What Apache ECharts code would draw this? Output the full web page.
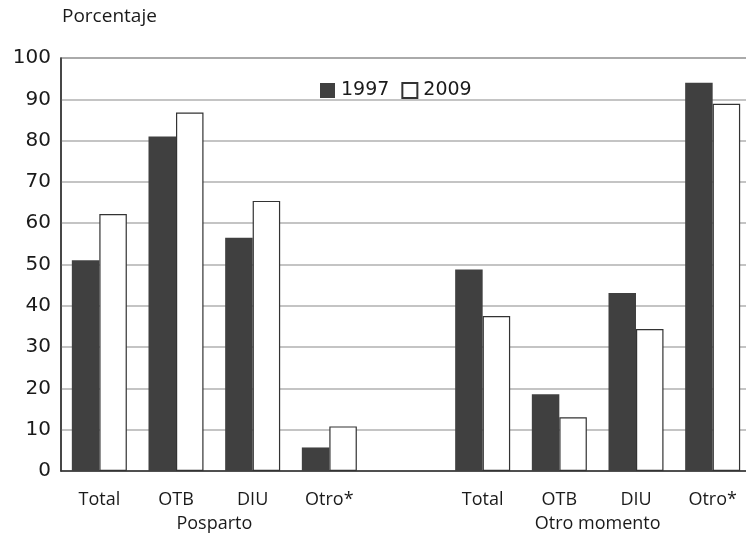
<!DOCTYPE html>
<html><head><meta charset="utf-8">
<script src="https://cdn.jsdelivr.net/npm/echarts@6/dist/echarts.min.js"></script>
<style>html,body{margin:0;padding:0;background:#fff}#c{width:746px;height:538px}</style>
</head><body><div id="c"></div>
<script>
const categories = ['Total','OTB','DIU','Otro*','','Total','OTB','DIU','Otro*'];
const groups = [{name:'Posparto', from:0, to:3},{name:'Otro momento', from:5, to:8}];
const s1997 = [51.0, 81.0, 56.5, 5.7, '-', 48.8, 18.6, 43.1, 94.0];
const s2009 = [62.2, 86.8, 65.4, 10.8, '-', 37.5, 13.0, 34.4, 88.9];
const yTicks = [0,10,20,30,40,50,60,70,80,90,100];
const FONT = '"Open Sans", "Noto Sans", sans-serif';
const NUMFONT = '"DejaVu Sans", sans-serif';
const TXT = '#1a1a1a';
const chart = echarts.init(document.getElementById('c'), null, {renderer:'canvas'});
const option = {
  animation:false,
  textStyle:{fontFamily:FONT, color:TXT},
  grid:{left:61, top:58, width:690, height:413, show:true, borderColor:'#333', borderWidth:1.2, containLabel:false, outerBoundsMode:'none'},
  legend:{
    left:315, top:76, itemWidth:15, itemHeight:15, itemGap:12,
    textStyle:{fontFamily:NUMFONT, fontSize:19, color:TXT, padding:[0,0,0,1]},
    data:[{name:'1997', icon:'rect'},{name:'2009', icon:'rect'}]
  },
  xAxis:{type:'category', data:categories,
    axisLine:{lineStyle:{color:'#333', width:1.5}}, axisTick:{show:false},
    axisLabel:{fontFamily:FONT, fontSize:18, color:TXT, margin:20}
  },
  yAxis:{type:'value', min:0, max:100, interval:10,
    axisLine:{show:true, lineStyle:{color:'#333', width:1.5}}, axisTick:{show:false},
    axisLabel:{fontFamily:NUMFONT, fontSize:20, color:TXT, margin:10,
      formatter:function(v){return yTicks.indexOf(v)>=0?String(v):'';}},
    splitLine:{lineStyle:{color:'#b0b0b0', width:1.5}}
  },
  series:[
    {name:'1997', type:'bar', data:s1997, barWidth:27.5, barGap:'0%',
      itemStyle:{color:'#404040', borderColor:'#404040', borderWidth:0}},
    {name:'2009', type:'bar', data:s2009, barWidth:27.5,
      itemStyle:{color:'#ffffff', borderColor:'#333', borderWidth:1.2}}
  ]
};
chart.setOption(option);
const gfx = [{type:'text', left:62, top:7, style:{text:'Porcentaje', font:'19px '+FONT, fill:TXT}}];
groups.forEach(g=>{
  const x1 = chart.convertToPixel({xAxisIndex:0}, g.from);
  const x2 = chart.convertToPixel({xAxisIndex:0}, g.to);
  gfx.push({type:'text', x:(x1+x2)/2, y:524, style:{text:g.name, font:'18px '+FONT, fill:TXT, align:'center', verticalAlign:'middle'}});
});
chart.setOption({graphic:gfx});
</script></body></html>
